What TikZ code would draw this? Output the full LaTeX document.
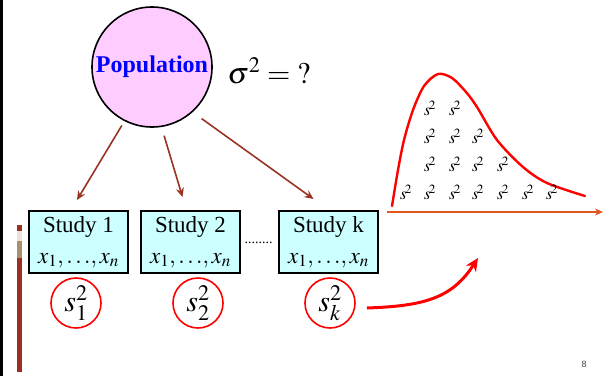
\documentclass[tikz,border=0pt]{standalone}
\usepackage{mathptmx}
\usepackage{fontspec}
\setmainfont{Liberation Serif}
\newfontfamily\pagefont{Liberation Sans}
\usetikzlibrary{arrows.meta,calc}
\definecolor{popPink}{HTML}{FFCCFF}
\definecolor{studyCyan}{HTML}{CCFFFF}
\definecolor{linkBrown}{HTML}{993322}
\definecolor{axisOrange}{HTML}{E0561E}
\definecolor{barRed}{HTML}{9C2F22}
\definecolor{barGray}{HTML}{E8E4DC}
\definecolor{barTan}{HTML}{A8906E}

\begin{document}
\begin{tikzpicture}[x=1pt, y=-1pt, >=Stealth,
    study/.style={draw, line width=2pt, fill=studyCyan, minimum width=99pt, minimum height=62pt,
                  inner sep=0pt, align=center, font=\fontsize{23}{31}\selectfont},
    svar/.style={draw=red, line width=1.6pt, circle, minimum size=50pt, inner sep=0pt,
                 font=\fontsize{30}{34}\selectfont},
    link/.style={->, linkBrown, line width=1.6pt, >={Stealth[length=9pt, width=8pt]}},
    sq/.style={inner sep=0pt, font=\fontsize{17}{19}\selectfont}]
  \useasboundingbox (0,0) rectangle (603,376);
  % slide trim
  \fill[black] (0,0) rectangle (2.7,376);
  \fill[barRed] (17,225) rectangle (22,230.5);
  \fill[barGray] (17,230.5) rectangle (22,241);
  \fill[barTan] (17,241) rectangle (22,258);
  \fill[barRed] (17,258) rectangle (22,372);

  \node[draw, line width=1.6pt, circle, fill=popPink, minimum size=120pt, inner sep=0pt,
        text=blue, font=\fontsize{24}{28}\selectfont\bfseries] (pop) at (152,67) {Population};
  \node[anchor=west, font=\fontsize{30}{34}\selectfont] (sig) at (224,71) {$\sigma^2 = {?}$};

  \node[study] (st1) at (78.5,242) {Study 1\\$x_1,\ldots\!,x_n$};
  \node[study] (st2) at (190.5,242) {Study 2\\$x_1,\ldots\!,x_n$};
  \node[study] (stk) at (328.5,242) {Study k\\$x_1,\ldots\!,x_n$};
  \node[font=\fontsize{14}{16}\selectfont] (gap) at (258.5,243) {........};

  \draw[link, shorten <=5pt] (pop.-117) -- ($(st1.north)+(-1.5,-10)$);
  \draw[link, shorten <=9pt] (pop.-81) -- ($(st2.north)+(-8,-13)$);
  \draw[link, shorten <=11pt] (pop.-48) -- ($(stk.north)+(-15,-11)$);

  \node[svar] (s1) at (76,303) {$s_1^2$};
  \node[svar] (s2) at (198,303) {$s_2^2$};
  \node[svar] (sk) at (330,303) {$s_k^2$};

  % sampling distribution
  \coordinate (axL) at (387,212);
  \coordinate (axR) at (603,212);
  \draw[->, axisOrange, line width=2pt, >={Stealth[length=8pt, width=7pt]}] (axL) -- (axR);
  \draw[red, line width=2.4pt, line cap=round] plot[smooth] coordinates {(392,206) (398,170) (404,140)
    (413,110) (424,86) (438,74) (452,78) (466,92) (477,107) (497,140) (523,167) (547,183) (585,196)};
  \foreach \yy/\xs in {108/{430,455}, 136/{430,455,478}, 164/{430,455,478,503},
                       192/{406,430,455,478,503,528,552}}
    \foreach \xx in \xs
      \node[sq] (sq-\xx-\yy) at (\xx,\yy) {$s^{\!2}$};

  \coordinate (fitTip) at (478,258);
  \draw[->, red, line width=3pt, >={Stealth[length=13pt, width=12pt]}]
    ($(sk.east)+(11,5)$) .. controls (425,306) and (452,298) .. (fitTip);

  \node[font=\pagefont\fontsize{9}{10}\selectfont, text=black!75] (pg) at (584,364) {8};
\end{tikzpicture}
\end{document}
